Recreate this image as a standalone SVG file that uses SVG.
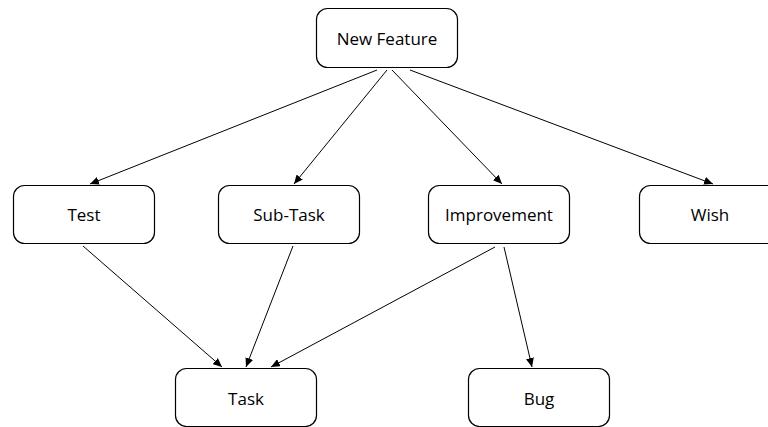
<svg xmlns="http://www.w3.org/2000/svg" width="768" height="427" viewBox="0 0 768 427">
<style>
.n rect{fill:#fff;stroke:#000;stroke-width:1.2}
.n text{font-family:"Open Sans","Liberation Sans",sans-serif;font-size:17px;text-anchor:middle;fill:#000}
.c line{stroke:#000;stroke-width:1;marker-end:url(#a)}
</style>
<defs>
<marker id="a" markerWidth="10" markerHeight="8" refX="9" refY="4" orient="auto" markerUnits="userSpaceOnUse">
<path d="M0,0 L9,4 L0,8 z" fill="#000"/>
</marker>
</defs>
<rect width="768" height="427" fill="#fff"/>
<g class="c">
<line x1="377" y1="70" x2="90" y2="184"/>
<line x1="387" y1="70" x2="294" y2="184"/>
<line x1="392" y1="70" x2="502" y2="184"/>
<line x1="410" y1="70" x2="713" y2="184"/>
<line x1="83" y1="246" x2="222" y2="367"/>
<line x1="293" y1="246" x2="246" y2="367"/>
<line x1="495" y1="247" x2="271" y2="367"/>
<line x1="504" y1="247" x2="532" y2="367"/>
</g>
<g id="newfeature" class="n"><rect x="316.5" y="8.5" width="141" height="59" rx="11"/><text x="387" y="45">New Feature</text></g>
<g id="test" class="n"><rect x="13.5" y="185.5" width="141" height="58" rx="11"/><text x="84" y="221">Test</text></g>
<g id="subtask" class="n"><rect x="218.5" y="185.5" width="141" height="58" rx="11"/><text x="289" y="221">Sub-Task</text></g>
<g id="improvement" class="n"><rect x="428.5" y="185.5" width="141" height="58" rx="11"/><text x="499" y="221">Improvement</text></g>
<g id="wish" class="n"><rect x="639.5" y="185.5" width="141" height="58" rx="11"/><text x="710" y="221">Wish</text></g>
<g id="task" class="n"><rect x="175.5" y="368.5" width="141" height="58" rx="11"/><text x="246" y="405">Task</text></g>
<g id="bug" class="n"><rect x="468.5" y="368.5" width="141" height="58" rx="11"/><text x="539" y="405">Bug</text></g>
</svg>
